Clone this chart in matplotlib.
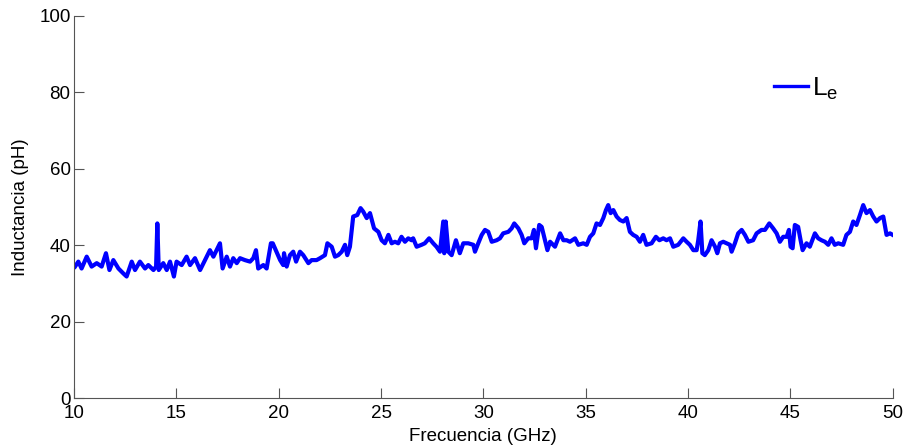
import matplotlib
matplotlib.use("Agg")
import matplotlib.pyplot as plt

plt.rcParams['font.family'] = ['Liberation Sans', 'DejaVu Sans']
plt.rcParams['mathtext.fontset'] = 'custom'
plt.rcParams['mathtext.rm'] = 'Liberation Sans'

# Extracted inductance vs frequency
freq_ghz = [
    10.05, 10.21, 10.37, 10.62, 10.86, 11.11, 11.35, 11.56, 11.73, 11.92,
    12.17, 12.41, 12.57, 12.82, 12.98, 13.22, 13.47, 13.63, 13.88, 14.01,
    14.07, 14.14, 14.36, 14.53, 14.69, 14.88, 15.01, 15.26, 15.50, 15.67,
    15.91, 16.16, 16.40, 16.64, 16.81, 17.13, 17.26, 17.46, 17.62, 17.78,
    17.95, 18.11, 18.35, 18.60, 18.76, 18.89, 19.00, 19.25, 19.41, 19.62,
    19.71, 20.07, 20.22, 20.26, 20.39, 20.55, 20.71, 20.85, 21.04, 21.20,
    21.45, 21.61, 21.85, 22.02, 22.26, 22.38, 22.59, 22.75, 22.91, 23.08,
    23.24, 23.35, 23.48, 23.64, 23.84, 24.00, 24.13, 24.30, 24.46, 24.66,
    24.87, 25.03, 25.19, 25.36, 25.52, 25.68, 25.84, 26.00, 26.17, 26.33,
    26.49, 26.57, 26.74, 26.98, 27.14, 27.35, 27.55, 27.71, 27.88, 28.04,
    28.09, 28.16, 28.29, 28.45, 28.66, 28.85, 29.02, 29.26, 29.51, 29.59,
    29.75, 29.92, 30.08, 30.24, 30.41, 30.65, 30.81, 30.97, 31.22, 31.38,
    31.51, 31.71, 31.87, 32.00, 32.19, 32.36, 32.47, 32.57, 32.73, 32.85,
    33.01, 33.13, 33.26, 33.50, 33.75, 33.91, 34.07, 34.23, 34.48, 34.64,
    34.88, 35.05, 35.21, 35.37, 35.53, 35.70, 35.86, 35.99, 36.10, 36.22,
    36.35, 36.51, 36.67, 36.84, 37.00, 37.16, 37.32, 37.49, 37.65, 37.81,
    37.97, 38.22, 38.43, 38.60, 38.79, 38.95, 39.12, 39.28, 39.52, 39.77,
    39.93, 40.09, 40.26, 40.42, 40.50, 40.61, 40.70, 40.82, 40.99, 41.15,
    41.32, 41.43, 41.56, 41.72, 41.88, 42.05, 42.13, 42.29, 42.45, 42.62,
    42.78, 42.95, 43.18, 43.35, 43.59, 43.76, 43.97, 44.16, 44.33, 44.49,
    44.65, 44.82, 44.93, 45.01, 45.11, 45.22, 45.38, 45.50, 45.60, 45.79,
    45.95, 46.20, 46.36, 46.52, 46.69, 46.85, 47.01, 47.17, 47.34, 47.58,
    47.74, 47.91, 48.07, 48.23, 48.40, 48.56, 48.72, 48.89, 49.05, 49.21,
    49.38, 49.54, 49.70, 49.87, 50.00,
]
inductance_ph = [
    34.4, 35.7, 33.9, 37.0, 34.4, 35.3, 34.4, 37.9, 33.5, 36.1,
    33.9, 32.6, 31.8, 35.7, 33.5, 35.7, 33.9, 34.8, 33.5, 34.4,
    45.7, 33.5, 35.3, 33.5, 35.7, 31.8, 35.7, 34.8, 37.0, 34.8,
    36.6, 33.5, 36.1, 38.7, 37.0, 40.5, 33.9, 37.0, 34.4, 36.6,
    35.3, 36.6, 36.1, 35.7, 36.6, 38.7, 33.9, 34.8, 33.9, 40.5,
    40.5, 36.1, 34.8, 37.9, 34.4, 37.4, 38.3, 35.7, 38.3, 37.4,
    35.3, 36.1, 36.1, 36.6, 37.4, 40.5, 39.6, 37.0, 37.4, 38.3,
    40.1, 37.4, 39.6, 47.5, 47.9, 49.7, 48.8, 47.1, 48.4, 44.4,
    43.5, 41.3, 40.5, 42.7, 40.5, 40.9, 40.5, 42.2, 40.9, 41.8,
    41.3, 41.8, 39.6, 40.1, 40.5, 41.8, 40.5, 39.6, 38.3, 46.2,
    37.9, 46.2, 38.3, 37.4, 41.3, 37.9, 40.5, 40.5, 40.1, 38.3,
    40.5, 42.7, 44.0, 43.5, 40.9, 41.3, 41.8, 43.1, 43.5, 44.4,
    45.7, 44.4, 42.7, 40.5, 41.8, 41.8, 44.0, 39.2, 45.3, 44.8,
    41.3, 38.7, 40.9, 39.6, 43.1, 41.3, 41.3, 40.9, 41.8, 40.1,
    40.5, 40.1, 42.2, 43.1, 45.7, 45.3, 47.1, 49.2, 50.5, 48.4,
    49.2, 47.5, 46.6, 46.2, 47.1, 43.5, 42.7, 42.2, 40.9, 42.7,
    40.1, 40.5, 42.2, 41.3, 41.8, 41.3, 41.8, 39.6, 40.1, 41.8,
    40.9, 40.1, 38.7, 38.7, 41.3, 46.2, 37.9, 37.4, 38.7, 41.3,
    39.6, 37.9, 40.5, 40.9, 40.5, 40.1, 38.3, 40.5, 43.1, 44.0,
    42.7, 40.9, 41.3, 43.1, 44.0, 44.0, 45.7, 44.4, 43.1, 40.9,
    42.2, 42.2, 44.0, 39.6, 39.2, 45.3, 44.8, 41.3, 38.7, 40.5,
    39.6, 43.1, 41.8, 41.3, 40.9, 40.1, 41.8, 40.1, 40.5, 40.1,
    42.7, 43.5, 46.2, 45.3, 47.9, 50.5, 48.4, 49.2, 47.5, 46.2,
    47.1, 47.5, 42.7, 43.1, 42.7,
]

x_ticks = [10, 15, 20, 25, 30, 35, 40, 45, 50]
y_ticks = [0, 20, 40, 60, 80, 100]

fig = plt.figure(figsize=(9.05, 4.48), dpi=100)
ax = fig.add_axes([0.0818, 0.1116, 0.9046, 0.8527])

ax.plot(freq_ghz, inductance_ph, color='#0000ff', linewidth=3.0,
        label=r'L$_{\rm e}$')

ax.set_xlim(10, 50)
ax.set_ylim(0, 100)
ax.set_xticks(x_ticks)
ax.set_yticks(y_ticks)

for side in ['top', 'right']:
    ax.spines[side].set_visible(False)
for side in ['left', 'bottom']:
    ax.spines[side].set_color('#555555')
    ax.spines[side].set_linewidth(0.8)

ax.tick_params(direction='in', length=7, width=0.8, color='#555555',
               labelsize=13.5)
ax.tick_params(axis='x', pad=5)
ax.tick_params(axis='y', pad=2.5)
ax.set_xlabel('Frecuencia (GHz)', fontsize=13.5, labelpad=4)
ax.set_ylabel('Inductancia (pH)', fontsize=13.5, labelpad=7.5)

leg = ax.legend(loc='center left', bbox_to_anchor=(0.842, 0.81), frameon=False,
                fontsize=19, handlelength=1.3, handletextpad=0.15,
                borderaxespad=0)
for h in leg.get_lines():
    h.set_linewidth(2.4)

fig.savefig('out.png', dpi=100)
